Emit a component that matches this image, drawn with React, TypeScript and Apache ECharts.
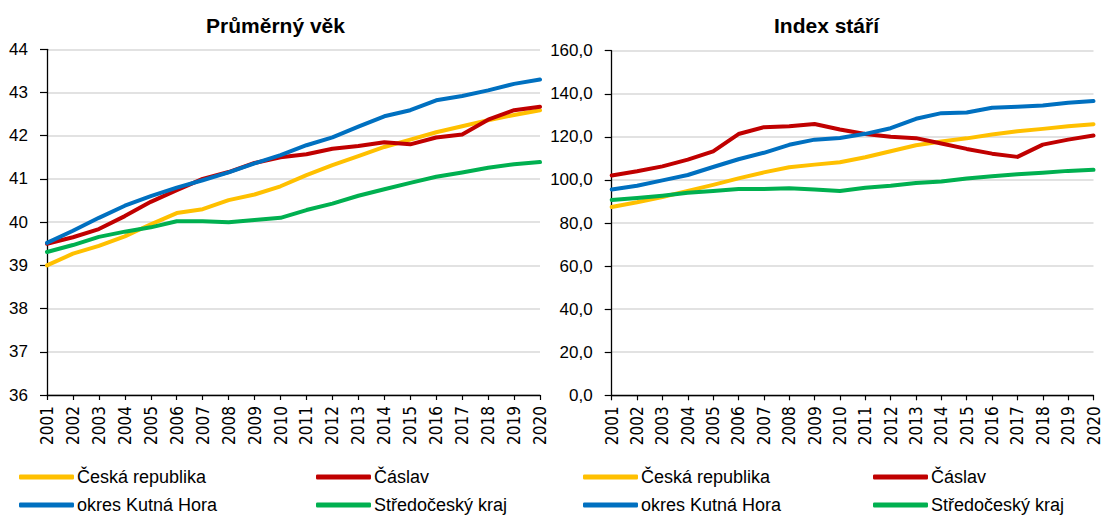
import React, { useEffect, useRef } from "react";
import * as echarts from "echarts";

const years = ["2001","2002","2003","2004","2005","2006","2007","2008","2009","2010","2011","2012","2013","2014","2015","2016","2017","2018","2019","2020"];

const seriesNames = ["Česká republika", "Čáslav", "okres Kutná Hora", "Středočeský kraj"];
const seriesColors = ["#FFC000", "#C00000", "#0070C0", "#00B050"];

// Průměrný věk
const ageCR = [39.0, 39.27, 39.45, 39.67, 39.95, 40.21, 40.3, 40.51, 40.64, 40.83, 41.09, 41.32, 41.53, 41.74, 41.91, 42.08, 42.22, 42.36, 42.48, 42.59];
const ageCaslav = [39.5, 39.65, 39.84, 40.14, 40.47, 40.74, 41.0, 41.16, 41.37, 41.5, 41.57, 41.7, 41.76, 41.85, 41.8, 41.96, 42.03, 42.37, 42.59, 42.67];
const ageKH = [39.52, 39.8, 40.1, 40.38, 40.6, 40.8, 40.97, 41.15, 41.36, 41.55, 41.78, 41.96, 42.21, 42.45, 42.59, 42.82, 42.92, 43.05, 43.2, 43.3];
const ageSK = [39.31, 39.47, 39.66, 39.78, 39.88, 40.02, 40.02, 40.0, 40.05, 40.1, 40.28, 40.43, 40.61, 40.76, 40.91, 41.05, 41.15, 41.26, 41.34, 41.39];

// Index stáří
const idxCR = [87.4, 89.6, 92.1, 94.9, 97.7, 100.7, 103.5, 105.9, 107.1, 108.2, 110.5, 113.3, 116.1, 117.8, 119.3, 121.1, 122.6, 123.7, 124.9, 125.9];
const idxCaslav = [102.1, 104.0, 106.3, 109.4, 113.3, 121.3, 124.5, 124.9, 126.0, 123.4, 121.3, 120.0, 119.4, 116.9, 114.4, 112.2, 110.7, 116.4, 118.7, 120.6];
const idxKH = [95.6, 97.3, 99.8, 102.3, 106.0, 109.6, 112.6, 116.3, 118.7, 119.5, 121.4, 124.0, 128.4, 131.0, 131.3, 133.5, 134.0, 134.6, 135.8, 136.6];
const idxSK = [90.7, 91.6, 92.7, 94.0, 94.9, 95.8, 95.8, 96.1, 95.6, 94.9, 96.4, 97.3, 98.6, 99.3, 100.7, 101.7, 102.6, 103.3, 104.2, 104.7];

const titles = ["Průměrný věk", "Index stáří"];

const LABEL_FONT = "'Liberation Sans', Arial, sans-serif";
const NARROW_FONT = "'Liberation Sans Narrow', 'Arial Narrow', 'DejaVu Sans Condensed', sans-serif";

export default function App() {
  const ref = useRef<HTMLDivElement>(null);

  useEffect(() => {
    if (!ref.current) return;
    const chart = echarts.init(ref.current, undefined, { renderer: "svg" });

    const ageData = [ageCR, ageCaslav, ageKH, ageSK];
    const idxData = [idxCR, idxCaslav, idxKH, idxSK];

    const xAxisCommon = (gridIndex: number) => ({
      type: "category",
      gridIndex,
      data: years,
      boundaryGap: false,
      axisLine: { show: true, lineStyle: { color: "#000", width: 1.3 } },
      axisTick: { show: true, interval: 0, length: 5, lineStyle: { color: "#000", width: 1.2 } },
      axisLabel: {
        interval: 0,
        rotate: 90,
        margin: 11,
        fontSize: 17,
        fontFamily: NARROW_FONT,
        color: "#000",
      },
      splitLine: { show: false },
    });

    const yAxisCommon = (gridIndex: number, min: number, max: number, interval: number, fmt: (v: number) => string) => ({
      type: "value",
      gridIndex,
      min,
      max,
      interval,
      axisLine: { show: true, lineStyle: { color: "#000", width: 1.3 } },
      axisTick: { show: true, length: 7, lineStyle: { color: "#000", width: 1.2 } },
      axisLabel: {
        margin: 19,
        fontSize: 17,
        fontFamily: LABEL_FONT,
        color: "#000",
        formatter: fmt,
      },
      splitLine: { show: true, lineStyle: { color: "#D9D9D9", width: 1.5 } },
    });

    const series: any[] = [];
    seriesNames.forEach((name, i) => {
      series.push({
        name,
        type: "line",
        xAxisIndex: 0,
        yAxisIndex: 0,
        data: ageData[i],
        symbol: "none",
        smooth: false,
        lineStyle: { color: seriesColors[i], width: 4, cap: "round", join: "round" },
        itemStyle: { color: seriesColors[i] },
      });
    });
    seriesNames.forEach((name, i) => {
      series.push({
        name,
        type: "line",
        xAxisIndex: 1,
        yAxisIndex: 1,
        data: idxData[i],
        symbol: "none",
        smooth: false,
        lineStyle: { color: seriesColors[i], width: 4, cap: "round", join: "round" },
        itemStyle: { color: seriesColors[i] },
      });
    });

    const legendPos = [
      { left: 19, top: 468 },
      { left: 316, top: 468 },
      { left: 19, top: 496 },
      { left: 316, top: 496 },
    ];
    const legendPosRight = [
      { left: 583, top: 468 },
      { left: 873, top: 468 },
      { left: 583, top: 496 },
      { left: 873, top: 496 },
    ];
    const legends: any[] = [];
    [legendPos, legendPosRight].forEach((positions) => {
      seriesNames.forEach((name, i) => {
        legends.push({
          data: [name],
          left: positions[i].left,
          top: positions[i].top,
          padding: 0,
          icon: "roundRect",
          itemWidth: 55,
          itemHeight: 5,
          selectedMode: false,
          textStyle: { fontSize: 18, fontFamily: LABEL_FONT, color: "#000", padding: [0, 0, 0, -2] },
        });
      });
    });

    chart.setOption({
      animation: false,
      backgroundColor: "#fff",
      title: [
        {
          text: titles[0],
          left: "25%",
          textAlign: "center",
          top: 15,
          padding: 0,
          textStyle: { fontSize: 21, fontWeight: "bold", fontFamily: LABEL_FONT, color: "#000" },
        },
        {
          text: titles[1],
          left: "75%",
          textAlign: "center",
          top: 15,
          padding: 0,
          textStyle: { fontSize: 21, fontWeight: "bold", fontFamily: LABEL_FONT, color: "#000" },
        },
      ],
      legend: legends,
      grid: [
        { left: 47, top: 49.3, width: 493, height: 345.7, containLabel: false },
        { left: 611.7, top: 50.7, width: 483.3, height: 344.6, containLabel: false },
      ],
      xAxis: [xAxisCommon(0), xAxisCommon(1)],
      yAxis: [
        yAxisCommon(0, 36, 44, 1, (v: number) => String(v)),
        yAxisCommon(1, 0, 160, 20, (v: number) => v.toFixed(1).replace(".", ",")),
      ],
      series,
    });

    return () => {
      chart.dispose();
    };
  }, []);

  return (
    <div
      ref={ref}
      style={{ position: "absolute", left: 0, top: 0, width: 1102, height: 517 }}
    />
  );
}
